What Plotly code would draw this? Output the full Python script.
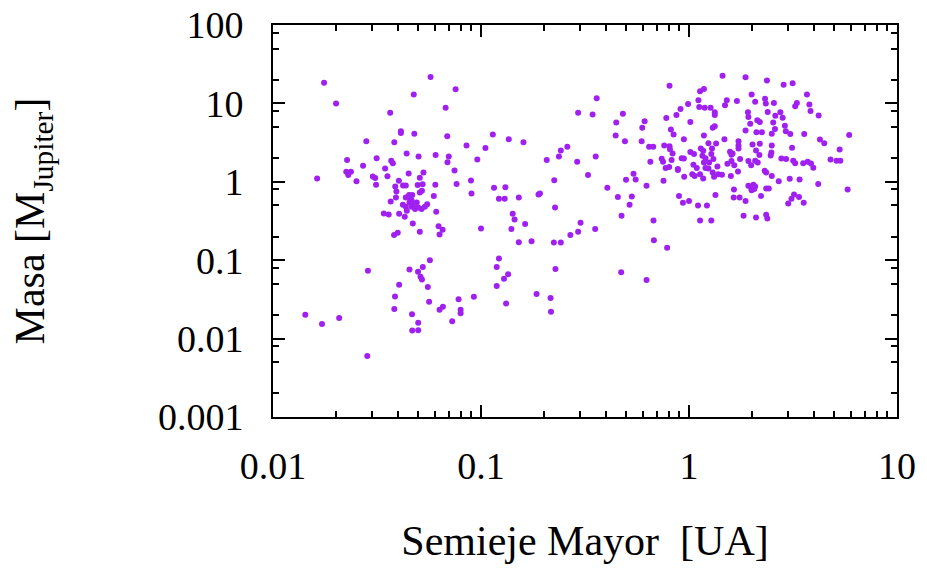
import plotly.graph_objects as go

# Hot / close-in planets (semi-major axis in AU, mass in Jupiter masses)
a_cercanos = [0.0176, 0.0201, 0.0572, 0.0755, 0.0475, 0.0676, 0.0366, 0.0412, 0.0412, 0.0478,
              0.0688, 0.0281, 0.0383, 0.0852, 0.0227, 0.0315, 0.0439, 0.0501, 0.0605, 0.070,
              0.069, 0.096, 0.037, 0.0377, 0.0271, 0.0346, 0.0746, 0.0225, 0.0237, 0.023,
              0.0163, 0.0302, 0.031, 0.0355, 0.0449, 0.0529, 0.0252, 0.0403, 0.0387, 0.0508,
              0.0524, 0.0496, 0.0895, 0.0763, 0.0603, 0.0313, 0.0422, 0.0435, 0.0392, 0.090,
              0.0593, 0.0508, 0.052, 0.0451, 0.0467, 0.0435, 0.0451, 0.0464, 0.039, 0.0368,
              0.0421, 0.0435, 0.0453, 0.0464, 0.044, 0.0491, 0.0499, 0.0482, 0.0518, 0.0537,
              0.0551, 0.0472, 0.0341, 0.036, 0.0404, 0.043, 0.0609, 0.047, 0.0625, 0.0654,
              0.0632, 0.0508, 0.0382, 0.0398, 0.100, 0.0568, 0.0525, 0.0453, 0.0498, 0.0512,
              0.052, 0.0286, 0.0404, 0.0555, 0.0386, 0.078, 0.0924, 0.0563, 0.0143, 0.0172,
              0.0208, 0.0284, 0.0383, 0.0466, 0.0499, 0.0467, 0.0499, 0.0632, 0.0656, 0.0727,
              0.0798, 0.0798]
m_cercanos = [18.3, 10.0, 21.7, 15.2, 13.0, 8.8, 7.6, 4.4, 4.2, 4.1,
              3.8, 3.3, 3.2, 2.9, 1.9, 2.0, 2.3, 2.1, 2.2, 2.1,
              1.78, 1.93, 1.85, 1.73, 1.6, 1.48, 1.39, 1.34, 1.34, 1.22,
              1.10, 1.17, 1.12, 1.18, 1.28, 1.31, 1.02, 1.03, 0.87, 1.13,
              0.93, 0.91, 1.04, 0.94, 0.92, 0.92, 0.90, 0.90, 0.75, 0.71,
              0.66, 0.73, 0.77, 0.68, 0.68, 0.63, 0.63, 0.58, 0.63, 0.56,
              0.51, 0.48, 0.545, 0.48, 0.427, 0.545, 0.47, 0.449, 0.449, 0.48,
              0.519, 0.519, 0.394, 0.383, 0.39, 0.358, 0.415, 0.293, 0.272, 0.244,
              0.213, 0.23, 0.209, 0.224, 0.254, 0.1, 0.0818, 0.0761, 0.0711, 0.0614,
              0.0567, 0.0731, 0.0485, 0.0455, 0.0345, 0.0318, 0.0341, 0.0295, 0.0202, 0.0153,
              0.0183, 0.0060, 0.0239, 0.0205, 0.0159, 0.0127, 0.0128, 0.0234, 0.0255, 0.0167,
              0.0233, 0.021]

# Intermediate planets
a_medios = [0.806, 0.36, 0.293, 0.344, 0.481, 0.447, 0.612, 0.596, 0.99, 0.91,
            0.87, 0.778, 1.015, 0.818, 0.843, 0.114, 0.136, 0.160, 0.105, 0.444,
            0.492, 0.592, 0.945, 0.643, 0.673, 0.76, 0.806, 0.81, 0.834, 1.015,
            0.26, 0.242, 0.237, 0.207, 0.29, 0.356, 0.652, 0.739, 0.75, 0.825,
            0.772, 0.803, 0.922, 0.945, 0.884, 0.884, 1.05, 1.037, 0.948,
            0.541, 0.554, 0.498, 0.754, 0.625, 0.327, 0.225, 0.405, 0.1155, 0.131,
            0.122, 0.130, 0.152, 0.189, 0.192, 0.455, 0.531, 0.518, 0.895, 0.935,
            1.0, 0.227, 0.142, 0.145, 0.163, 0.140, 0.474, 0.675, 0.301, 0.293,
            0.269, 0.354, 0.152, 0.175, 0.224, 0.242, 0.678, 0.785, 0.122, 0.119,
            0.228, 0.135, 0.129, 0.119, 0.472, 0.625, 0.185, 0.216, 0.132, 0.217]
m_medios = [16.8, 11.6, 7.6, 7.2, 7.4, 5.7, 5.9, 4.9, 9.8, 8.5,
            7.1, 6.5, 5.8, 4.65, 4.0, 4.0, 3.5, 3.2, 2.7, 3.9,
            3.3, 3.3, 3.5, 2.8, 2.8, 2.9, 2.85, 2.6, 2.3, 2.4,
            2.8, 2.5, 2.1, 1.9, 1.8, 2.1, 1.8, 1.97, 1.8, 1.9,
            1.5, 1.55, 2.0, 1.98, 1.46, 1.41, 1.65, 1.25, 1.16,
            1.27, 1.07, 1.06, 1.03, 0.89, 1.22, 1.05, 0.84, 0.84, 0.85,
            0.61, 0.61, 0.63, 0.69, 0.71, 0.64, 0.65, 0.51, 0.66, 0.54,
            0.57, 0.47, 0.39, 0.33, 0.29, 0.25, 0.37, 0.32, 0.30, 0.23,
            0.21, 0.25, 0.17, 0.175, 0.168, 0.168, 0.18, 0.144, 0.105, 0.082,
            0.077, 0.066, 0.058, 0.047, 0.07, 0.056, 0.037, 0.033, 0.028, 0.022]

# Distant giant planets
a_lejanos = [1.45, 1.87, 2.37, 2.85, 3.15, 1.13, 1.18, 2.0, 2.32, 2.34,
             3.69, 1.11, 1.12, 1.19, 1.27, 1.49, 1.52, 1.70, 2.08, 2.56,
             3.30, 3.24, 3.79, 3.84, 1.33, 1.33, 1.92, 1.93, 1.97, 2.39,
             2.75, 2.60, 2.82, 2.54, 2.59, 2.89, 2.92, 3.07, 4.2, 2.13,
             2.19, 1.30, 1.33, 1.87, 2.11, 2.24, 2.50, 1.18, 1.48, 1.73,
             3.58, 4.26, 5.89, 4.47, 5.3, 4.79, 5.12, 5.34, 4.18, 5.79,
             1.73, 1.73, 2.02, 2.19, 2.10, 2.18, 2.5, 2.49, 2.47, 3.13,
             1.057, 1.14, 1.17, 1.16, 1.20, 1.24, 1.29, 1.35, 1.28, 1.31,
             1.25, 1.18, 1.20, 1.09, 1.065, 1.13, 1.17, 1.24, 1.30, 1.32,
             1.37, 1.38, 1.44, 1.53, 1.60, 1.65, 1.62, 1.575, 1.60, 1.76,
             1.72, 1.59, 1.93, 1.99, 2.08, 2.14, 2.31, 2.35, 2.50, 2.78,
             2.93, 3.17, 3.24, 3.54, 3.72, 3.86, 3.96, 2.70, 3.05, 3.40,
             1.93, 1.99, 2.04, 2.06, 2.0, 2.08, 2.35, 2.42, 1.645, 1.34,
             1.64, 1.75, 1.87, 2.22, 3.2, 3.11, 3.38, 3.0, 3.56, 1.105,
             1.22, 1.83, 2.10, 2.35, 2.38, 1.13, 1.28]
m_lejanos = [22.5, 21.6, 19.6, 17.3, 18.1, 14.3, 15.3, 13.0, 11.5, 10.0,
             13.0, 11.0, 9.0, 8.8, 8.8, 9.5, 11.0, 10.7, 10.5, 10.1,
             10.1, 9.2, 9.7, 8.0, 7.7, 7.1, 7.7, 6.7, 5.5, 7.75,
             7.7, 6.95, 6.55, 5.7, 4.7, 5.2, 4.4, 4.06, 7.0, 6.1,
             5.8, 4.9, 5.1, 4.5, 4.3, 4.3, 4.1, 3.9, 3.5, 3.3,
             4.06, 3.47, 3.94, 3.1, 2.58, 1.93, 1.85, 1.85, 0.94, 0.80,
             2.9, 2.66, 3.0, 3.05, 2.5, 2.2, 2.9, 2.37, 2.17, 2.72,
             2.26, 2.66, 2.49, 2.15, 2.0, 3.1, 2.66, 3.08, 2.26, 1.95,
             1.76, 1.76, 1.5, 1.5, 1.19, 1.25, 1.10, 1.48, 1.31, 1.16,
             1.57, 1.25, 1.23, 1.7, 1.84, 1.63, 2.3, 2.41, 2.21, 1.95,
             1.35, 1.19, 1.84, 1.63, 1.85, 1.76, 1.38, 1.31, 1.19, 1.98,
             1.95, 1.85, 1.73, 1.73, 1.8, 1.71, 1.51, 1.02, 1.09, 1.07,
             0.89, 0.84, 0.92, 0.81, 0.78, 0.87, 0.82, 0.82, 0.80, 0.68,
             0.63, 0.63, 0.57, 0.66, 0.69, 0.61, 0.64, 0.53, 0.54, 0.50,
             0.50, 0.37, 0.35, 0.38, 0.34, 0.32, 0.32]

x_tickvals = [0.01, 0.1, 1, 10]
x_ticktext = ["0.01", "0.1", "1", "10"]
y_tickvals = [0.001, 0.01, 0.1, 1, 10, 100]
y_ticktext = ["0.001", "0.01", "0.1", "1", "10", "100"]
x_minor = [m * 10.0 ** e for e in range(-2, 1) for m in range(2, 10)]
y_minor = [m * 10.0 ** e for e in range(-3, 2) for m in (2, 5, 8)]

semieje = a_cercanos + a_medios + a_lejanos
masa = m_cercanos + m_medios + m_lejanos

FONT = "Liberation Serif"

fig = go.Figure(go.Scatter(
    x=semieje, y=masa, mode="markers",
    marker=dict(color="#A020F0", size=6, line=dict(width=0)),
    showlegend=False, hoverinfo="skip"))

axis_common = dict(
    type="log", showgrid=False, zeroline=False, automargin=False,
    showline=True, linewidth=2, linecolor="black", mirror="ticks",
    ticks="inside", ticklen=12, tickwidth=2, tickcolor="black",
    tickfont=dict(family=FONT, size=38, color="black"),
)

fig.update_layout(
    width=927, height=579, autosize=False,
    margin=dict(l=273, r=30, t=25, b=162),
    paper_bgcolor="white", plot_bgcolor="white",
    font=dict(family=FONT, color="black"),
    xaxis=dict(
        axis_common, range=[-2, 1],
        tickmode="array", tickvals=x_tickvals, ticktext=x_ticktext,
        ticklabelstandoff=14,
        minor=dict(tickvals=x_minor, ticks="inside", ticklen=6, tickwidth=1.5,
                   tickcolor="black", showgrid=False),
        title=dict(text="Semieje Mayor\u00a0 [UA]", font=dict(family=FONT, size=42, color="black"),
                   standoff=40),
    ),
    yaxis=dict(
        axis_common, range=[-3, 2],
        tickmode="array", tickvals=y_tickvals, ticktext=y_ticktext,
        ticklabelstandoff=20,
        minor=dict(tickvals=y_minor, ticks="inside", ticklen=6, tickwidth=1.5,
                   tickcolor="black", showgrid=False),
        title=dict(text="Masa [M<sub>Jupiter</sub>]", font=dict(family=FONT, size=42, color="black"),
                   standoff=100),
    ),
)

fig.write_html("out.html", config={"displayModeBar": False})
